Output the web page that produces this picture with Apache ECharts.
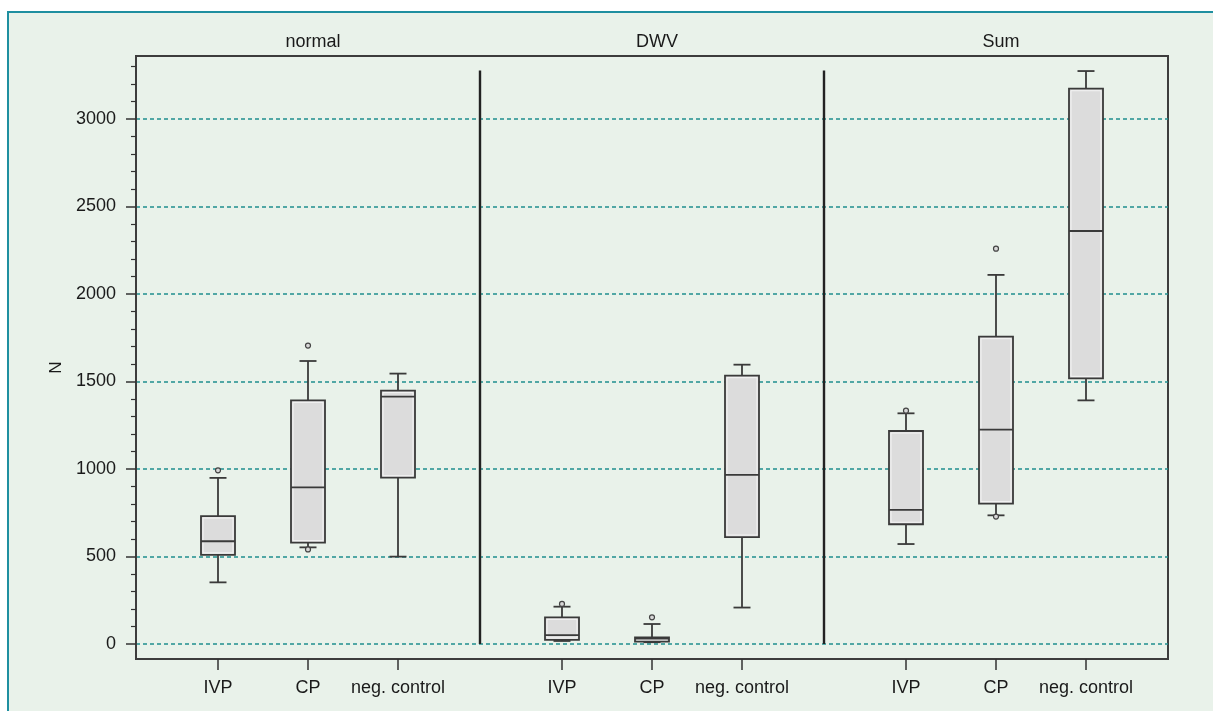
<!DOCTYPE html>
<html><head><meta charset="utf-8">
<script src="https://cdn.jsdelivr.net/npm/echarts@6/dist/echarts.min.js"></script>
<style>
html,body{margin:0;padding:0;background:#fff;width:1213px;height:711px;overflow:hidden}
#panel{position:absolute;left:7px;top:11px;width:1230px;height:730px;background:#e9f2ea;border-left:2px solid #1f8fa0;border-top:2px solid #1f8fa0;}
#chart{position:absolute;left:0;top:0;width:1213px;height:711px}
</style></head><body>
<div id="panel"></div><div id="chart"></div>
<script>
// ---- data ----
const groups = ['normal', 'DWV', 'Sum'];
const categories = ['IVP', 'CP', 'neg. control'];
// each box: [min, Q1, median, Q3, max]
const normalBoxes = [[352, 509, 587, 731, 949], [552, 579, 895, 1392, 1617], [499, 950, 1413, 1448, 1545]];
const dwvBoxes    = [[17, 23, 50, 152, 213], [10, 13, 30, 38, 114], [208, 611, 966, 1533, 1596]];
const sumBoxes    = [[571, 684, 766, 1217, 1318], [735, 802, 1225, 1756, 2109], [1392, 1518, 2360, 3173, 3274]];
// outliers: [category index, value]
const normalOutliers = [[0, 992], [1, 1705], [1, 540]];
const dwvOutliers    = [[0, 229], [1, 152]];
const sumOutliers    = [[0, 1333], [1, 2259], [1, 728]];
const yTicks = [0, 500, 1000, 1500, 2000, 2500, 3000];
const yMinorTicks = [100, 200, 300, 400, 600, 700, 800, 900, 1100, 1200, 1300, 1400, 1600, 1700, 1800, 1900,
  2100, 2200, 2300, 2400, 2600, 2700, 2800, 2900, 3100, 3200, 3300];

// ---- layout ----
const PANEL_W = 344 / 90;          // panel width in category pitches
const SEP_TOP = 3277;              // top of the panel separators (y units)
const Y_MIN = -86, Y_MAX = 3360;
const FONT = 'Liberation Sans, Arial, sans-serif';

const allBoxes = [normalBoxes, dwvBoxes, sumBoxes];
const allOutliers = [normalOutliers, dwvOutliers, sumOutliers];
function pos(g, i) { return g * PANEL_W + (PANEL_W - 2) / 2 + i; }

const boxData = [];
const positions = [];
const posLabels = [];
allBoxes.forEach((boxes, g) => boxes.forEach((b, i) => {
  boxData.push([pos(g, i)].concat(b));
  positions.push(pos(g, i));
  posLabels.push(categories[i]);
}));
const outlierData = [];
allOutliers.forEach((outs, g) => outs.forEach(o => outlierData.push([pos(g, o[0]), o[1]])));

const chart = echarts.init(document.getElementById('chart'), null, {renderer: 'canvas'});
const BOX_HALF = 17, CAP_HALF = 8.5;
const STROKE = '#3a3a3a';

function renderBox(params, api) {
  const x = api.value(0);
  const pMin = api.coord([x, api.value(1)]);
  const pQ1 = api.coord([x, api.value(2)]);
  const pMed = api.coord([x, api.value(3)]);
  const pQ3 = api.coord([x, api.value(4)]);
  const pMax = api.coord([x, api.value(5)]);
  const cx = pMin[0];
  const ls = {stroke: STROKE, lineWidth: 1.8, fill: null};
  return {
    type: 'group',
    children: [
      {type: 'line', shape: {x1: cx, y1: pMax[1], x2: cx, y2: pQ3[1]}, style: ls},
      {type: 'line', shape: {x1: cx, y1: pQ1[1], x2: cx, y2: pMin[1]}, style: ls},
      {type: 'line', shape: {x1: cx - CAP_HALF, y1: pMax[1], x2: cx + CAP_HALF, y2: pMax[1]}, style: ls},
      {type: 'line', shape: {x1: cx - CAP_HALF, y1: pMin[1], x2: cx + CAP_HALF, y2: pMin[1]}, style: ls},
      {type: 'rect', shape: {x: cx - BOX_HALF, y: pQ3[1], width: 2 * BOX_HALF, height: pQ1[1] - pQ3[1]},
        style: {fill: '#dcdcdc', stroke: STROKE, lineWidth: 1.8}},
      {type: 'rect', shape: {x: cx - BOX_HALF + 2, y: pQ3[1] + 2, width: 2 * BOX_HALF - 4, height: Math.max(0, pQ1[1] - pQ3[1] - 4)},
        style: {fill: null, stroke: '#f4f4f4', lineWidth: 1}},
      {type: 'line', shape: {x1: cx - BOX_HALF, y1: pMed[1], x2: cx + BOX_HALF, y2: pMed[1]}, style: {stroke: STROKE, lineWidth: 1.8}}
    ]
  };
}

const option = {
  animation: false,
  backgroundColor: 'transparent',
  title: groups.map((t, g) => ({
    text: t,
    left: 136 + (g + 0.5) * 344,
    top: 28,
    textAlign: 'center',
    textStyle: {fontSize: 18, fontWeight: 'normal', color: '#1a1a1a', fontFamily: FONT}
  })),
  grid: {left: 136, right: 45, top: 56, bottom: 52, show: true, borderColor: '#3d3d3d', borderWidth: 2, backgroundColor: 'transparent'},
  xAxis: {
    type: 'value', min: 0, max: 3 * PANEL_W,
    axisLine: {show: true, onZero: false, lineStyle: {color: '#3d3d3d', width: 2}},
    splitLine: {show: false},
    axisTick: {show: true, customValues: positions, length: 11, lineStyle: {color: '#333', width: 1.5}},
    axisLabel: {
      customValues: positions, margin: 20, fontSize: 18, color: '#1a1a1a', fontFamily: FONT,
      formatter: v => { const k = positions.findIndex(p => Math.abs(p - v) < 1e-6); return k >= 0 ? posLabels[k] : ''; }
    }
  },
  yAxis: [{
    type: 'value', min: Y_MIN, max: Y_MAX,
    name: 'N', nameLocation: 'middle', nameGap: 70, nameRotate: 90,
    nameTextStyle: {fontSize: 17, color: '#1a1a1a', fontFamily: FONT, padding: [0, 20, 0, 0]},
    axisLine: {show: true, lineStyle: {color: '#3d3d3d', width: 2}},
    axisTick: {show: true, customValues: yTicks, length: 10, lineStyle: {color: '#333', width: 1.5}},
    axisLabel: {customValues: yTicks, margin: 20, fontSize: 18, color: '#1a1a1a', fontFamily: FONT, formatter: v => String(v)},
    splitLine: {show: true, lineStyle: {color: '#1f8f8f', type: [4, 3], width: 1.6}}
  }, {
    type: 'value', min: Y_MIN, max: Y_MAX, position: 'left',
    axisLine: {show: false},
    axisLabel: {show: false},
    splitLine: {show: false},
    axisTick: {show: true, customValues: yMinorTicks, length: 5, lineStyle: {color: '#333', width: 1.2}}
  }],
  series: [{
    type: 'custom',
    renderItem: renderBox,
    data: boxData,
    encode: {x: 0, y: [1, 2, 3, 4, 5]},
    z: 3
  }, {
    type: 'scatter',
    data: outlierData,
    symbol: 'circle', symbolSize: 5,
    itemStyle: {color: '#d8d8d8', borderColor: '#444', borderWidth: 1.2, opacity: 1},
    z: 4,
    markLine: {
      silent: true, symbol: ['none', 'none'], label: {show: false},
      lineStyle: {color: '#222', width: 2.4, type: 'solid'},
      data: [1, 2].map(k => [{coord: [k * PANEL_W, 0]}, {coord: [k * PANEL_W, SEP_TOP]}])
    }
  }]
};
chart.setOption(option);
</script>
</body></html>
